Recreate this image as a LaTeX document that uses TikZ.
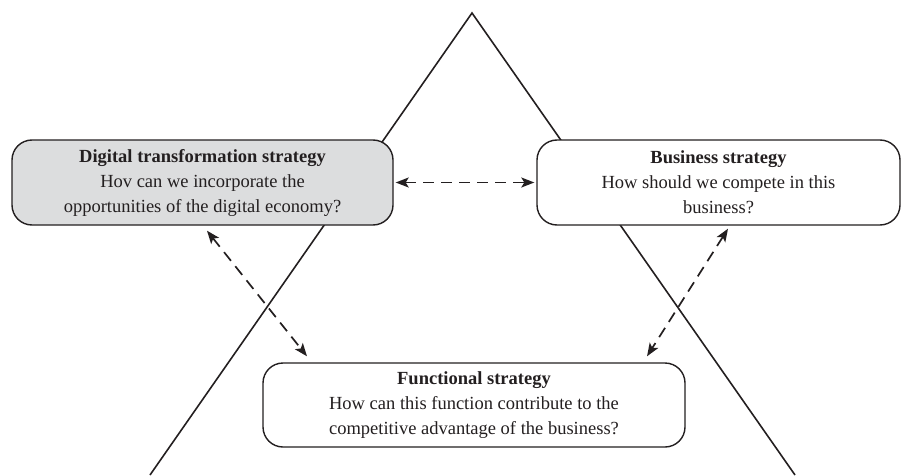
\documentclass[tikz,border=0pt]{standalone}
\usepackage{fontspec}
\setmainfont{Liberation Serif}
\usetikzlibrary{arrows.meta,calc}
\definecolor{ink}{HTML}{231F20}
\definecolor{boxgray}{HTML}{DCDDDE}
\tikzset{
  sbox/.style={draw=ink, line width=1.4pt, rounded corners=20pt, align=center,
    text=ink, font=\fontsize{18.5}{25}\selectfont, inner sep=0pt},
  link/.style={draw=ink, line width=1.7pt, dash pattern=on 11pt off 7pt,
    {Stealth[length=13pt,width=10pt,inset=3pt]}-{Stealth[length=13pt,width=10pt,inset=3pt]}},
  tri/.style={draw=ink, line width=1.6pt}
}
\begin{document}
\begin{tikzpicture}[x=1pt,y=1pt]
\useasboundingbox (0,0) rectangle (907,475);
\begin{scope}
\clip (0,0) rectangle (907,475);
\coordinate (apex) at (472,462);
\coordinate (bl) at (150,0);
\coordinate (br) at (795,0);
\draw[tri] (bl) -- (apex) -- (br);
\end{scope}
\node[sbox, fill=boxgray, minimum width=381pt, minimum height=85pt] (L) at (202.5,292.5)
  {\textbf{Digital transformation strategy}\\Hov can we incorporate the\\opportunities of the digital economy?};
\node[sbox, fill=white, minimum width=363pt, minimum height=85pt] (R) at (718.5,292.5)
  {\textbf{Business strategy}\\How should we compete in this\\business?};
\node[sbox, fill=white, minimum width=422pt, minimum height=84pt] (F) at (474,70)
  {\textbf{Functional strategy}\\How can this function contribute to the\\competitive advantage of the business?};
\draw[link, shorten <=2pt, shorten >=2pt] (L.east) -- (R.west);
\draw[link] ($(L.south)+(4.5,-5)$) -- ($(F.north)+(-167,6)$);
\draw[link] ($(R.south)+(9.5,-3)$) -- ($(F.north)+(173,6)$);
\end{tikzpicture}
\end{document}
